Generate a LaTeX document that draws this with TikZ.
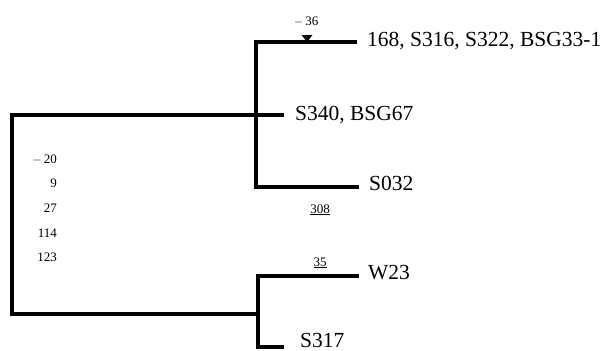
\documentclass[tikz,border=0pt]{standalone}
\usepackage{fontspec}
\setmainfont{Liberation Serif}
\begin{document}
\begin{tikzpicture}[x=1pt,y=-1pt,
  branch/.style={line width=3.2pt,line cap=rect},
  leaf/.style={anchor=base west,inner sep=0pt,font=\fontsize{21.5}{24}\selectfont},
  num/.style={anchor=base east,inner sep=0pt,font=\fontsize{13}{15}\selectfont},
  marklbl/.style={anchor=base,inner sep=0pt,font=\fontsize{13}{15}\selectfont}]
\useasboundingbox (0,0) rectangle (606,351);
\clip (0,0) rectangle (606,351);
% junctions
\coordinate (r1) at (12,115);
\coordinate (r2) at (12,314);
\coordinate (a1) at (256,42);
\coordinate (a2) at (256,187);
\coordinate (b1) at (258,276);
\coordinate (b2) at (258,347);
\coordinate (bM) at (258,314);
\coordinate (e1) at (355,42);
\coordinate (e2) at (282,115);
\coordinate (e3) at (357,187);
\coordinate (e4) at (357,276);
\coordinate (e5) at (282,347);
% labels
\node[leaf] (L1) at (367,46) {168, S316, S322, BSG33-1};
\node[leaf] (L2) at (295,120) {S340, BSG67};
\node[leaf] (L3) at (369,190) {S032};
\node[leaf] (L4) at (368,279) {W23};
\node[leaf] (L5) at (300,347.5) {S317};
% tree
\draw[branch] (r1) -- (r2);
\draw[branch] (r1) -- (e2);
\draw[branch] (r2) -- (bM);
\draw[branch] (a1) -- (a2);
\draw[branch] (a1) -- (e1);
\draw[branch] (a2) -- (e3);
\draw[branch] (b1) -- (b2);
\draw[branch] (b1) -- (e4);
\draw[branch] (b2) -- (e5);
% marker
\fill (301.5,35) -- (312.5,35) -- (307,42) -- cycle;
\node[marklbl] (m36) at (306,25) {$-$\,36};
\node[marklbl] (m308) at (320,213) {\underline{308}};
\node[marklbl] (m35) at (320,266) {\underline{35}};
% numbers
\node[num] (n1) at (57,163) {$-$\,20};
\node[num] (n2) at (57,187) {9};
\node[num] (n3) at (57,212) {27};
\node[num] (n4) at (57,237) {114};
\node[num] (n5) at (57,261) {123};
\end{tikzpicture}
\end{document}
